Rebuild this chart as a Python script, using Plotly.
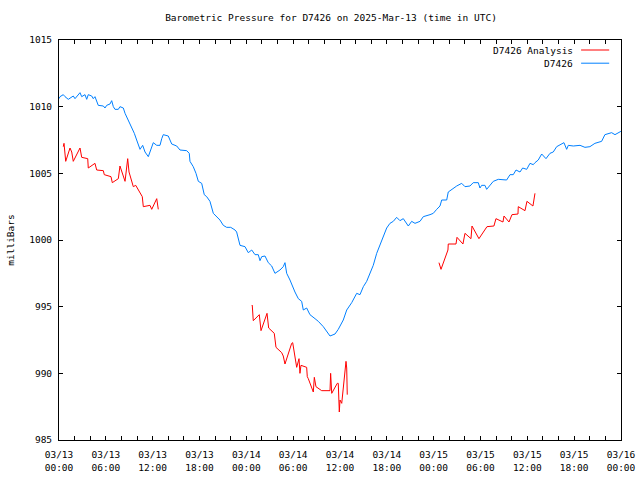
import pandas as pd
import plotly.graph_objects as go

# ---- data (hours after 2025-03-13 00:00 UTC, pressure in mb) ----
start = pd.Timestamp("2025-03-13 00:00")

obs_hours = [0.00, 0.13, 0.55, 0.77, 1.19, 1.63, 1.83, 2.05, 2.47, 2.69, 2.91, 3.33, 3.55, 3.75,
             4.19, 4.39, 4.61, 4.83, 5.03, 5.68, 5.89, 6.11, 6.53, 6.75, 6.96, 7.17, 7.60, 7.81,
             8.24, 8.46, 8.67, 8.88, 9.31, 9.65, 9.95, 10.16, 10.38, 10.72, 11.02, 11.44, 11.88,
             12.08, 12.52, 12.94, 13.16, 13.36, 14.00, 14.44, 15.08, 15.50, 16.36, 16.69, 16.78,
             17.20, 17.55, 17.85, 18.28, 18.61, 18.92, 19.34, 19.77, 20.20, 20.62, 21.05, 21.48,
             22.00, 22.55, 22.76, 23.19, 23.83, 24.25, 24.69, 25.11, 25.53, 25.75, 25.97, 26.39,
             26.81, 27.25, 27.67, 28.31, 28.73, 28.95, 29.17, 29.59, 30.23, 30.66, 31.09, 31.30,
             31.73, 32.15, 32.80, 33.22, 33.86, 34.50, 34.72, 35.36, 35.78, 36.42, 36.86, 37.50,
             38.14, 38.56, 38.99, 39.42, 39.84, 40.26, 40.70, 41.12, 41.55, 41.98, 42.40, 42.83,
             43.26, 43.68, 44.11, 44.75, 45.18, 45.61, 46.25, 46.67, 47.53, 47.95, 48.39, 48.81,
             49.03, 49.67, 49.87, 50.51, 50.95, 51.59, 52.01, 52.65, 53.07, 53.72, 53.93, 54.15,
             54.57, 54.79, 55.21, 55.64, 56.28, 56.92, 57.35, 57.78, 58.20, 58.55, 59.06, 59.40,
             59.92, 60.34, 60.76, 60.98, 61.40, 61.84, 62.39, 62.90, 63.32, 63.76, 64.40, 64.69,
             65.04, 65.25, 65.89, 66.75, 67.38, 68.02, 68.66, 69.52, 69.94, 70.37, 70.80, 71.23,
             71.76, 71.99]
obs_mb = [1010.6, 1010.75, 1010.9, 1010.75, 1010.55, 1010.7, 1010.8, 1010.6, 1010.9, 1011.05,
          1010.75, 1010.9, 1010.55, 1010.9, 1010.8, 1010.6, 1010.75, 1010.4, 1010.1, 1010.05,
          1009.9, 1010.1, 1010.2, 1010.45, 1010.0, 1009.8, 1009.8, 1010.0, 1009.9, 1009.5,
          1009.25, 1008.9, 1008.5, 1008.0, 1007.5, 1007.1, 1006.8, 1007.1, 1006.6, 1006.25,
          1007.0, 1007.3, 1007.1, 1007.1, 1007.6, 1007.9, 1007.8, 1007.2, 1007.05, 1006.75,
          1006.7, 1006.5, 1005.9, 1005.5, 1005.0, 1004.4, 1004.25, 1003.4, 1003.25, 1002.9,
          1002.0, 1001.75, 1001.5, 1001.1, 1000.95, 1000.95, 1000.75, 1000.6, 999.6, 999.5,
          999.05, 999.25, 998.9, 998.9, 998.45, 998.75, 998.8, 998.3, 998.05, 997.5, 997.75,
          998.0, 998.3, 997.5, 997.0, 996.1, 995.6, 995.4, 994.75, 994.9, 994.4, 994.1, 993.9,
          993.5, 993.0, 992.8, 992.95, 993.3, 994.0, 994.75, 995.3, 996.0, 995.9, 996.5, 996.9,
          997.5, 998.1, 999.0, 999.6, 1000.25, 1000.9, 1001.25, 1001.4, 1001.7, 1001.45, 1001.6,
          1001.05, 1001.4, 1001.25, 1001.4, 1001.75, 1001.9, 1002.0, 1002.3, 1002.55, 1003.0,
          1003.0, 1003.6, 1003.9, 1004.05, 1004.25, 1004.0, 1004.05, 1004.3, 1004.3, 1003.9,
          1004.1, 1004.1, 1003.8, 1004.1, 1004.4, 1004.55, 1004.5, 1004.5, 1004.9, 1004.9,
          1005.25, 1005.1, 1005.4, 1005.3, 1005.75, 1005.65, 1005.8, 1006.0, 1006.45, 1006.1,
          1006.5, 1006.6, 1007.0, 1007.25, 1007.3, 1006.8, 1007.1, 1007.05, 1007.1, 1006.95,
          1007.0, 1007.25, 1007.4, 1007.9, 1007.95, 1008.05, 1007.9, 1008.1, 1008.15]

ana1_hours = [0.55, 0.64, 0.86, 1.41, 1.63, 1.83, 2.69, 2.91, 3.68, 3.75, 4.61, 4.83, 5.68, 5.80,
              6.66, 6.83, 7.60, 7.81, 8.46, 8.80, 8.97, 9.52, 9.83, 10.67, 10.80, 11.66, 11.88,
              12.52, 12.72]
ana1_mb = [1007.0, 1007.25, 1005.9, 1006.9, 1006.6, 1005.9, 1006.9, 1006.2, 1006.1, 1005.4,
           1005.75, 1005.25, 1005.2, 1004.9, 1004.75, 1004.3, 1004.6, 1005.55, 1004.4, 1006.1,
           1005.1, 1004.0, 1004.1, 1003.25, 1002.5, 1002.6, 1002.3, 1003.1, 1002.3]

ana2_hours = [24.69, 24.76, 24.89, 25.66, 25.88, 26.52, 26.65, 26.86, 27.58, 27.80, 28.53, 28.73,
              28.95, 29.81, 29.94, 30.45, 30.75, 30.87, 31.00, 31.73, 31.81, 31.94, 32.58, 32.71,
              32.92, 33.65, 34.72, 34.80, 34.94, 35.65, 35.78, 35.91, 36.00, 36.22, 36.42, 36.64,
              36.77, 36.86, 36.93]
ana2_mb = [995.05, 995.1, 993.95, 994.4, 993.2, 994.3, 994.5, 993.4, 993.0, 991.95, 991.55,
           991.3, 990.7, 992.25, 992.3, 990.45, 991.1, 990.0, 990.6, 990.45, 989.75, 989.6,
           988.6, 989.7, 989.0, 988.7, 988.7, 990.0, 988.5, 989.25, 989.25, 987.1, 988.0,
           987.75, 989.1, 990.5, 990.9, 990.4, 988.4]

ana3_hours = [48.68, 48.94, 49.83, 49.87, 50.86, 50.99, 51.75, 52.01, 52.78, 52.91, 53.80, 54.83,
              55.72, 55.98, 56.88, 57.01, 57.65, 58.03, 58.80, 58.84, 59.70, 59.95, 60.72, 60.98]
ana3_mb = [998.3, 997.8, 999.25, 999.7, 999.7, 1000.2, 999.7, 1000.5, 1000.1, 1001.05, 1000.1,
           1001.0, 1001.05, 1001.6, 1001.35, 1001.8, 1001.35, 1001.9, 1001.95, 1002.5, 1002.2,
           1002.9, 1002.55, 1003.5]

tick_hours = [0, 6, 12, 18, 24, 30, 36, 42, 48, 54, 60, 66, 72]
tick_text = ["03/13<br>00:00", "03/13<br>06:00", "03/13<br>12:00", "03/13<br>18:00",
             "03/14<br>00:00", "03/14<br>06:00", "03/14<br>12:00", "03/14<br>18:00",
             "03/15<br>00:00", "03/15<br>06:00", "03/15<br>12:00", "03/15<br>18:00",
             "03/16<br>00:00"]
y_ticks = [985, 990, 995, 1000, 1005, 1010, 1015]

RED = "#ff0000"
BLUE = "#0080ff"
FONT = "DejaVu Sans Mono"

W, H = 640, 480


def to_time(hours):
    return [None if h is None else start + pd.Timedelta(hours=h) for h in hours]


ana_hours = ana1_hours + [None] + ana2_hours + [None] + ana3_hours
ana_mb = ana1_mb + [None] + ana2_mb + [None] + ana3_mb

fig = go.Figure()
fig.add_trace(go.Scatter(x=to_time(obs_hours), y=obs_mb, mode="lines",
                         line=dict(color=BLUE, width=1), name="D7426"))
fig.add_trace(go.Scatter(x=to_time(ana_hours), y=ana_mb, mode="lines",
                         line=dict(color=RED, width=1), name="D7426 Analysis",
                         connectgaps=False))

# gnuplot-style key (text followed by line sample)
key = [("D7426 Analysis", RED, 0.975), ("D7426", BLUE, 0.942)]
for label, col, yy in key:
    fig.add_annotation(x=0.918, y=yy, xref="paper", yref="paper", text=label,
                       showarrow=False, xanchor="right", yanchor="middle",
                       font=dict(family=FONT, size=9.5, color="black"))
    fig.add_shape(type="line", xref="paper", yref="paper", x0=0.929, x1=0.979,
                  y0=yy, y1=yy, line=dict(color=col, width=1))

fig.update_layout(
    width=W, height=H,
    margin=dict(l=59, r=19, t=40, b=40, autoexpand=False),
    paper_bgcolor="white", plot_bgcolor="white",
    showlegend=False,
    font=dict(family=FONT, size=9.5, color="black"),
    title=dict(text="Barometric Pressure for D7426 on 2025-Mar-13 (time in UTC)",
               x=331 / W, xanchor="center", y=1 - 18 / H, yanchor="middle",
               font=dict(family=FONT, size=9.5, color="black")),
)
fig.update_xaxes(
    type="date", automargin=False,
    range=[start, start + pd.Timedelta(hours=72)],
    tickmode="array", tickvals=to_time(tick_hours), ticktext=tick_text,
    ticks="inside", ticklen=4, tickcolor="black", tickwidth=1,
    ticklabelstandoff=6,
    minor=dict(tickmode="linear", tick0=start, dtick=2 * 3600 * 1000,
               ticks="inside", ticklen=4, tickcolor="black", tickwidth=1, showgrid=False),
    showline=True, linecolor="black", linewidth=1, mirror="ticks",
    showgrid=False, zeroline=False,
    tickfont=dict(family=FONT, size=9.5, color="black"),
)
fig.update_yaxes(
    automargin=False,
    range=[985, 1015],
    tickmode="array", tickvals=y_ticks,
    ticks="inside", ticklen=4, tickcolor="black", tickwidth=1,
    ticklabelstandoff=4,
    showline=True, linecolor="black", linewidth=1, mirror="ticks",
    showgrid=False, zeroline=False,
    tickfont=dict(family=FONT, size=9.5, color="black"),
    title=dict(text="milliBars", font=dict(family=FONT, size=9.5, color="black"), standoff=12),
)

# remove the browser's default page margin / scrollbars so the 640x480 figure fills the window
fig.write_html("out.html",
               config={"displayModeBar": False},
               post_script="document.body.style.margin='0';"
                           "document.body.style.overflow='hidden';"
                           "document.documentElement.style.overflow='hidden';")
